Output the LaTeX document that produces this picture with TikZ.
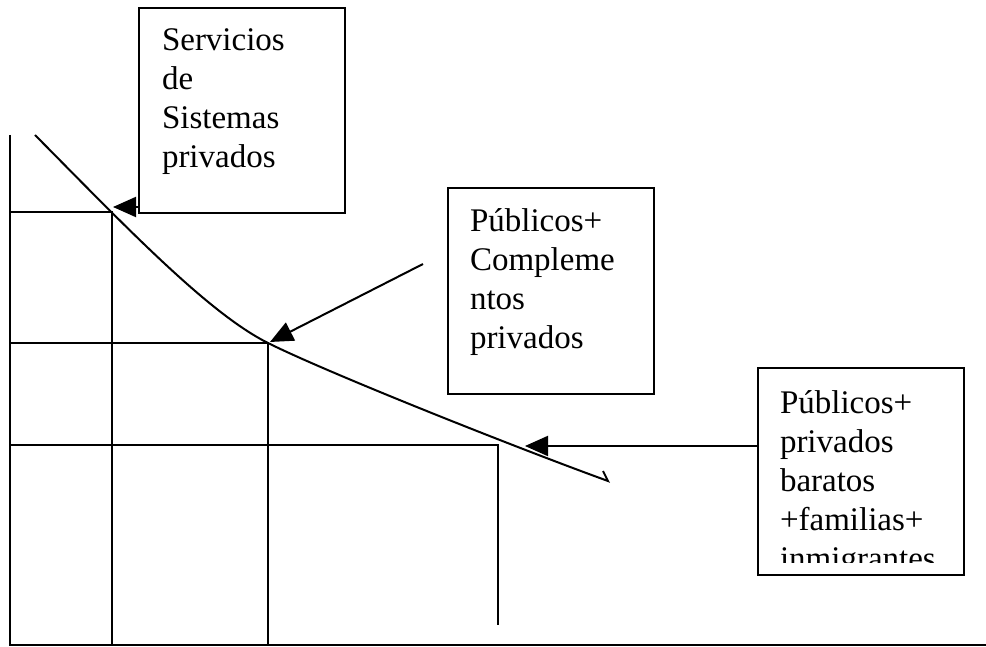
\documentclass[tikz,border=0pt]{standalone}
\usepackage{fontspec}
\setmainfont{Liberation Serif}
\usetikzlibrary{positioning}
\usetikzlibrary{arrows.meta}
\usetikzlibrary{calc}

\begin{document}
\begin{tikzpicture}[
    x=1pt, y=-1pt,
    line width=2pt,
    >={Triangle[length=23pt,width=20pt]},
    caja/.style={rectangle, draw, anchor=north west, inner sep=0pt},
    texto/.style={align=left, inner sep=0pt,
      font=\fontsize{33pt}{39pt}\selectfont},
  ]
  \useasboundingbox (0,0) rectangle (986,647);

  % Axes
  \draw (10,135) -- (10,645) -- (986,645);

  % Curve (with the small hook at its end)
  \draw (35,135)
    .. controls (125,226) and (208,313) .. (268,343)
    .. controls (328,373) and (517,448) .. (608,481)
    -- (603,471);

  % Guide lines
  \draw (10,212) -- (112,212) -- (112,645);
  \draw (10,343) -- (268,343) -- (268,645);
  \draw (10,445) -- (498,445) -- (498,625);

  % Boxes
  \node[caja, minimum width=206pt, minimum height=205pt] (sistemas)     at (138,7)   {};
  \node[caja, minimum width=206pt, minimum height=206pt] (complementos) at (447,187) {};
  \node[caja, minimum width=206pt, minimum height=207pt] (familias)     at (757,367) {};

  % Box texts
  \node[texto, below right=20.5pt and 23pt of sistemas.north west] (sistemas-txt)
    {Servicios\\de\\Sistemas\\privados};
  \node[texto, below right=20.5pt and 22pt of complementos.north west] (complementos-txt)
    {Públicos+\\Compleme\\ntos\\privados};
  \begin{scope}
    \clip (757,367) rectangle (963,562);
    \node[texto, below right=22.5pt and 22pt of familias.north west] (familias-txt)
      {Públicos+\\privados\\baratos\\+familias+\\inmigrantes};
  \end{scope}

  % Arrow ends on the curve
  \coordinate (tip1)  at (113,207);
  \coordinate (tail2) at (423,264);
  \coordinate (tip2)  at (270,342);
  \coordinate (tip3)  at (525,446);

  % Arrows
  \draw[->] (sistemas.west |- tip1) -- (tip1);
  \draw[->] (tail2) -- (tip2);
  \draw[->] (familias.west |- tip3) -- (tip3);

\end{tikzpicture}
\end{document}
